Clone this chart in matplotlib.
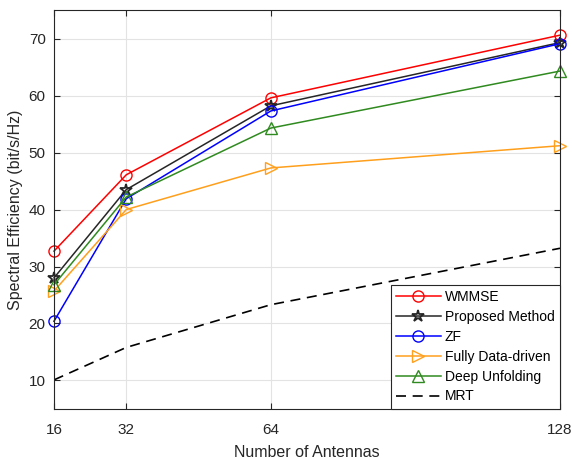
import matplotlib
matplotlib.use('Agg')
import matplotlib.pyplot as plt

# === DATA ===
antennas = [16, 32, 64, 128]
wmmse = [32.7, 46.1, 59.6, 70.6]
proposed = [28.0, 43.5, 58.2, 69.3]
zf = [20.4, 41.9, 57.3, 69.1]
fully_dd = [25.7, 40.0, 47.3, 51.2]
deep_unf = [26.8, 42.2, 54.3, 64.3]
mrt = [10.1, 15.8, 23.3, 33.2]

plt.rcParams['font.family'] = ['Liberation Sans', 'DejaVu Sans']

fig = plt.figure(figsize=(5.72, 4.59), dpi=100)
ax = fig.add_axes([0.0944, 0.109, 0.8846, 0.869])

lw = 1.1
ms = 8
ax.plot(antennas, wmmse, color='#ff0000', lw=lw, marker='o', ms=ms, mfc='none', label='WMMSE', clip_on=False)
ax.plot(antennas, proposed, color='#262626', lw=lw, marker='*', ms=ms + 1, mfc='none', mew=1.3, label='Proposed Method', clip_on=False)
ax.plot(antennas, zf, color='#0000ff', lw=lw, marker='o', ms=ms, mfc='none', label='ZF', clip_on=False)
ax.plot(antennas, fully_dd, color='#ff9f1c', lw=lw, marker='>', ms=ms, mfc='none', label='Fully Data-driven', clip_on=False)
ax.plot(antennas, deep_unf, color='#2f8a1f', lw=lw, marker='^', ms=ms, mfc='none', label='Deep Unfolding', clip_on=False)
ax.plot(antennas, mrt, color='black', lw=1.2, ls=(0, (6, 4)), label='MRT')

ax.set_xlim(16, 128)
ax.set_ylim(5, 75)
ax.set_xticks(antennas)
ax.set_yticks([10, 20, 30, 40, 50, 60, 70])
ax.grid(True, color='#e3e3e3', lw=0.8)
ax.set_axisbelow(True)
ax.tick_params(direction='in', length=4, labelsize=11, colors='#262626', top=True, right=True)
ax.tick_params(axis='x', pad=10)
ax.tick_params(axis='y', pad=6)
for s in ax.spines.values():
    s.set_color('#262626')
    s.set_linewidth(0.8)

ax.set_xlabel('Number of Antennas', fontsize=11.5, color='#262626', labelpad=6)
ax.set_ylabel('Spectral Efficiency (bit/s/Hz)', fontsize=11.5, color='#262626', labelpad=4)

leg = ax.legend(loc='lower right', fontsize=10, fancybox=False, framealpha=1,
                edgecolor='#262626', borderaxespad=0, handlelength=3.2,
                labelspacing=0.42, borderpad=0.4, handletextpad=0.3)
leg.get_frame().set_linewidth(0.8)
leg.set_zorder(5)

plt.savefig('out.png', dpi=100)
